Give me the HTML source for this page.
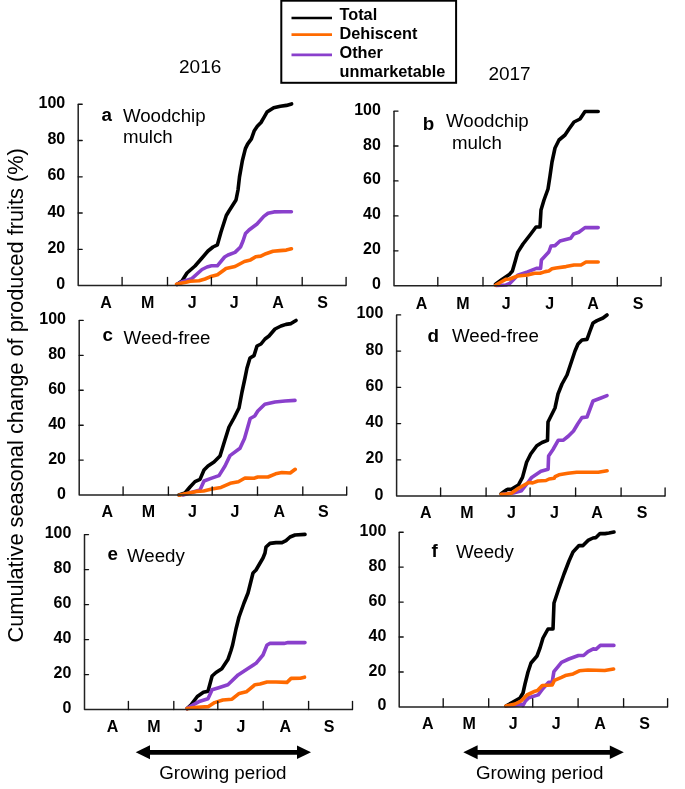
<!DOCTYPE html><html><head><meta charset="utf-8"><style>html,body{margin:0;padding:0;background:#fff;overflow:hidden;}svg{display:block;will-change:transform;}text{font-family:"Liberation Sans",sans-serif;}</style></head><body>
<svg width="685" height="789" viewBox="0 0 685 789">
<rect width="685" height="789" fill="#fff"/>
<rect x="281.3" y="0.7" width="174.8" height="82.1" fill="none" stroke="#000" stroke-width="2"/>
<line x1="291.5" y1="18" x2="332" y2="18" stroke="#000000" stroke-width="2.4"/>
<line x1="291.5" y1="34.7" x2="332" y2="34.7" stroke="#FF6A00" stroke-width="2.8"/>
<line x1="291.5" y1="54.9" x2="332" y2="54.9" stroke="#8A40CC" stroke-width="2.6"/>
<text x="339.5" y="19.5" font-size="16.3" font-weight="bold">Total</text>
<text x="339.5" y="38.9" font-size="16.3" font-weight="bold">Dehiscent</text>
<text x="339.5" y="57.9" font-size="16.3" font-weight="bold">Other</text>
<text x="339.5" y="77.4" font-size="16.3" font-weight="bold">unmarketable</text>
<text x="179" y="73.4" font-size="19">2016</text>
<text x="488.4" y="79.9" font-size="19">2017</text>
<text transform="translate(22.5,642.5) rotate(-90)" font-size="21.8">Cumulative seasonal change of produced fruits (%)</text>
<text x="65.2" y="289.1" font-size="16" font-weight="bold" text-anchor="end">0</text>
<text x="65.2" y="252.8" font-size="16" font-weight="bold" text-anchor="end">20</text>
<text x="65.2" y="216.5" font-size="16" font-weight="bold" text-anchor="end">40</text>
<text x="65.2" y="180.3" font-size="16" font-weight="bold" text-anchor="end">60</text>
<text x="65.2" y="144.0" font-size="16" font-weight="bold" text-anchor="end">80</text>
<text x="65.2" y="107.7" font-size="16" font-weight="bold" text-anchor="end">100</text>
<text x="106.1" y="308.4" font-size="16" font-weight="bold" text-anchor="middle">A</text>
<text x="147.7" y="308.4" font-size="16" font-weight="bold" text-anchor="middle">M</text>
<text x="192.1" y="308.4" font-size="16" font-weight="bold" text-anchor="middle">J</text>
<text x="234.2" y="308.4" font-size="16" font-weight="bold" text-anchor="middle">J</text>
<text x="278.1" y="308.4" font-size="16" font-weight="bold" text-anchor="middle">A</text>
<text x="322.5" y="308.4" font-size="16" font-weight="bold" text-anchor="middle">S</text>
<polyline points="177.0,284.4 182.0,281.0 187.0,273.0 195.0,266.0 202.0,258.0 208.0,251.0 213.0,247.0 217.4,244.8 221.0,232.0 226.3,215.5 229.0,211.0 236.0,200.0 238.0,190.0 239.5,176.9 242.4,160.5 245.4,148.6 247.6,144.1 251.4,138.9 254.3,130.7 257.3,126.3 261.0,122.5 264.0,117.3 267.0,112.1 273.7,107.7 280.4,106.2 286.4,105.4 291.6,103.9" fill="none" stroke="#000000" stroke-width="3.6" stroke-linejoin="round" stroke-linecap="round"/>
<polyline points="177.0,284.4 182.3,281.7 191.8,278.6 202.0,269.5 207.0,267.0 211.5,265.8 217.3,265.8 224.6,257.0 228.0,255.0 235.0,252.4 240.5,247.0 243.0,241.0 245.5,233.5 249.0,230.0 253.0,227.0 257.0,224.0 263.8,216.4 268.0,213.3 274.0,211.9 283.0,211.7 291.4,211.8" fill="none" stroke="#8A40CC" stroke-width="3.6" stroke-linejoin="round" stroke-linecap="round"/>
<polyline points="176.5,284.2 182.0,283.0 186.0,282.2 190.0,281.2 199.0,280.8 205.0,279.0 210.0,276.8 217.5,274.8 224.0,270.0 226.0,268.5 235.0,266.5 244.4,261.5 250.5,259.9 255.7,256.8 260.8,256.1 265.9,253.7 273.0,251.2 280.0,250.6 286.3,250.1 291.4,248.8" fill="none" stroke="#FF6A00" stroke-width="3.6" stroke-linejoin="round" stroke-linecap="round"/>
<path d="M78.2,104.2 V285.6 H346.1" fill="none" stroke="#222222" stroke-width="1.5" stroke-linejoin="round"/>
<line x1="78.2" y1="249.3" x2="82.2" y2="249.3" stroke="#111" stroke-width="1.35" stroke-linecap="round"/>
<line x1="78.2" y1="213.0" x2="82.2" y2="213.0" stroke="#111" stroke-width="1.35" stroke-linecap="round"/>
<line x1="78.2" y1="176.8" x2="82.2" y2="176.8" stroke="#111" stroke-width="1.35" stroke-linecap="round"/>
<line x1="78.2" y1="140.5" x2="82.2" y2="140.5" stroke="#111" stroke-width="1.35" stroke-linecap="round"/>
<line x1="78.2" y1="104.2" x2="82.2" y2="104.2" stroke="#111" stroke-width="1.35" stroke-linecap="round"/>
<line x1="122.1" y1="285.6" x2="122.1" y2="277.4" stroke="#111" stroke-width="1.35" stroke-linecap="round"/>
<line x1="167.5" y1="285.6" x2="167.5" y2="277.4" stroke="#111" stroke-width="1.35" stroke-linecap="round"/>
<line x1="211.4" y1="285.6" x2="211.4" y2="277.4" stroke="#111" stroke-width="1.35" stroke-linecap="round"/>
<line x1="256.8" y1="285.6" x2="256.8" y2="277.4" stroke="#111" stroke-width="1.35" stroke-linecap="round"/>
<line x1="302.2" y1="285.6" x2="302.2" y2="277.4" stroke="#111" stroke-width="1.35" stroke-linecap="round"/>
<line x1="346.1" y1="285.6" x2="346.1" y2="277.4" stroke="#111" stroke-width="1.35" stroke-linecap="round"/>
<text x="101.4" y="121.0" font-size="18.8" font-weight="bold">a</text>
<text x="122.9" y="121.6" font-size="18.7">Woodchip</text>
<text x="122.9" y="143.2" font-size="18.7">mulch</text>
<text x="380.9" y="289.2" font-size="16" font-weight="bold" text-anchor="end">0</text>
<text x="380.9" y="254.3" font-size="16" font-weight="bold" text-anchor="end">20</text>
<text x="380.9" y="219.4" font-size="16" font-weight="bold" text-anchor="end">40</text>
<text x="380.9" y="184.4" font-size="16" font-weight="bold" text-anchor="end">60</text>
<text x="380.9" y="149.5" font-size="16" font-weight="bold" text-anchor="end">80</text>
<text x="380.9" y="114.6" font-size="16" font-weight="bold" text-anchor="end">100</text>
<text x="421.6" y="308.5" font-size="16" font-weight="bold" text-anchor="middle">A</text>
<text x="462.9" y="308.5" font-size="16" font-weight="bold" text-anchor="middle">M</text>
<text x="506.1" y="308.5" font-size="16" font-weight="bold" text-anchor="middle">J</text>
<text x="549.7" y="308.5" font-size="16" font-weight="bold" text-anchor="middle">J</text>
<text x="593.1" y="308.5" font-size="16" font-weight="bold" text-anchor="middle">A</text>
<text x="638.0" y="308.5" font-size="16" font-weight="bold" text-anchor="middle">S</text>
<polyline points="495.5,284.2 502.0,279.5 509.7,274.2 512.4,271.0 515.0,262.0 517.7,252.4 523.0,244.0 530.0,235.0 536.0,227.0 540.0,227.0 541.0,210.0 544.0,200.0 548.0,189.0 550.0,176.0 552.0,162.0 555.0,148.0 559.0,140.0 565.0,135.0 569.0,129.0 574.0,122.0 580.0,119.0 585.0,111.5 598.2,111.5" fill="none" stroke="#000000" stroke-width="3.6" stroke-linejoin="round" stroke-linecap="round"/>
<polyline points="496.0,285.5 506.0,285.0 509.7,283.4 517.7,275.2 527.5,271.9 536.4,268.4 540.6,268.4 541.4,260.0 548.8,252.0 551.0,246.0 555.0,245.6 560.0,241.0 570.7,238.2 573.7,234.0 578.8,232.3 585.0,227.6 598.2,227.6" fill="none" stroke="#8A40CC" stroke-width="3.6" stroke-linejoin="round" stroke-linecap="round"/>
<polyline points="495.5,285.2 501.0,282.0 506.2,279.2 509.7,279.0 517.7,276.0 527.5,275.0 534.6,273.3 540.0,273.3 545.2,271.6 548.8,271.0 552.0,268.8 556.0,268.0 566.0,266.6 574.0,265.0 581.0,265.0 586.0,262.0 598.2,262.0" fill="none" stroke="#FF6A00" stroke-width="3.6" stroke-linejoin="round" stroke-linecap="round"/>
<path d="M394.0,111.1 V285.7 H661.1" fill="none" stroke="#222222" stroke-width="1.5" stroke-linejoin="round"/>
<line x1="394.0" y1="250.8" x2="398.0" y2="250.8" stroke="#111" stroke-width="1.35" stroke-linecap="round"/>
<line x1="394.0" y1="215.9" x2="398.0" y2="215.9" stroke="#111" stroke-width="1.35" stroke-linecap="round"/>
<line x1="394.0" y1="180.9" x2="398.0" y2="180.9" stroke="#111" stroke-width="1.35" stroke-linecap="round"/>
<line x1="394.0" y1="146.0" x2="398.0" y2="146.0" stroke="#111" stroke-width="1.35" stroke-linecap="round"/>
<line x1="394.0" y1="111.1" x2="398.0" y2="111.1" stroke="#111" stroke-width="1.35" stroke-linecap="round"/>
<line x1="437.8" y1="285.7" x2="437.8" y2="277.5" stroke="#111" stroke-width="1.35" stroke-linecap="round"/>
<line x1="483.0" y1="285.7" x2="483.0" y2="277.5" stroke="#111" stroke-width="1.35" stroke-linecap="round"/>
<line x1="526.8" y1="285.7" x2="526.8" y2="277.5" stroke="#111" stroke-width="1.35" stroke-linecap="round"/>
<line x1="572.1" y1="285.7" x2="572.1" y2="277.5" stroke="#111" stroke-width="1.35" stroke-linecap="round"/>
<line x1="617.3" y1="285.7" x2="617.3" y2="277.5" stroke="#111" stroke-width="1.35" stroke-linecap="round"/>
<line x1="661.1" y1="285.7" x2="661.1" y2="277.5" stroke="#111" stroke-width="1.35" stroke-linecap="round"/>
<text x="422.8" y="130.1" font-size="18.8" font-weight="bold">b</text>
<text x="446.0" y="127.4" font-size="18.7">Woodchip</text>
<text x="452.0" y="149.4" font-size="18.7">mulch</text>
<text x="66.0" y="498.5" font-size="16" font-weight="bold" text-anchor="end">0</text>
<text x="66.0" y="463.6" font-size="16" font-weight="bold" text-anchor="end">20</text>
<text x="66.0" y="428.7" font-size="16" font-weight="bold" text-anchor="end">40</text>
<text x="66.0" y="393.7" font-size="16" font-weight="bold" text-anchor="end">60</text>
<text x="66.0" y="358.8" font-size="16" font-weight="bold" text-anchor="end">80</text>
<text x="66.0" y="323.9" font-size="16" font-weight="bold" text-anchor="end">100</text>
<text x="107.4" y="516.7" font-size="16" font-weight="bold" text-anchor="middle">A</text>
<text x="148.3" y="516.7" font-size="16" font-weight="bold" text-anchor="middle">M</text>
<text x="192.4" y="516.7" font-size="16" font-weight="bold" text-anchor="middle">J</text>
<text x="235.0" y="516.7" font-size="16" font-weight="bold" text-anchor="middle">J</text>
<text x="279.4" y="516.7" font-size="16" font-weight="bold" text-anchor="middle">A</text>
<text x="323.3" y="516.7" font-size="16" font-weight="bold" text-anchor="middle">S</text>
<polyline points="179.0,495.0 185.0,493.0 190.0,487.0 195.0,481.6 200.0,479.4 204.0,470.0 208.0,466.0 214.0,462.0 220.0,456.0 224.0,443.0 229.0,427.0 234.0,418.0 239.0,408.0 242.0,392.0 245.0,378.0 247.0,368.0 250.0,358.0 254.0,355.6 257.0,346.0 261.0,344.0 265.0,339.0 269.0,336.0 275.0,329.0 281.0,326.0 286.0,324.4 291.0,323.6 296.0,320.4" fill="none" stroke="#000000" stroke-width="3.6" stroke-linejoin="round" stroke-linecap="round"/>
<polyline points="183.0,495.0 193.0,492.0 200.0,490.0 204.0,481.0 211.0,478.4 219.0,475.6 225.0,466.0 230.0,455.6 240.0,448.3 244.5,438.5 247.5,428.0 250.2,418.5 254.7,416.0 257.8,411.0 264.8,404.2 275.0,402.0 285.0,401.0 295.0,400.4" fill="none" stroke="#8A40CC" stroke-width="3.6" stroke-linejoin="round" stroke-linecap="round"/>
<polyline points="179.0,495.2 185.2,493.7 196.5,491.4 203.6,491.0 211.8,489.0 221.0,487.4 230.2,483.3 238.4,481.8 245.0,478.0 254.0,478.2 257.8,477.0 268.0,477.0 275.6,473.8 281.9,472.5 290.2,473.0 295.2,469.3" fill="none" stroke="#FF6A00" stroke-width="3.6" stroke-linejoin="round" stroke-linecap="round"/>
<path d="M79.2,320.4 V495.0 H346.7" fill="none" stroke="#222222" stroke-width="1.5" stroke-linejoin="round"/>
<line x1="79.2" y1="460.1" x2="83.2" y2="460.1" stroke="#111" stroke-width="1.35" stroke-linecap="round"/>
<line x1="79.2" y1="425.2" x2="83.2" y2="425.2" stroke="#111" stroke-width="1.35" stroke-linecap="round"/>
<line x1="79.2" y1="390.2" x2="83.2" y2="390.2" stroke="#111" stroke-width="1.35" stroke-linecap="round"/>
<line x1="79.2" y1="355.3" x2="83.2" y2="355.3" stroke="#111" stroke-width="1.35" stroke-linecap="round"/>
<line x1="79.2" y1="320.4" x2="83.2" y2="320.4" stroke="#111" stroke-width="1.35" stroke-linecap="round"/>
<line x1="123.1" y1="495.0" x2="123.1" y2="486.8" stroke="#111" stroke-width="1.35" stroke-linecap="round"/>
<line x1="168.4" y1="495.0" x2="168.4" y2="486.8" stroke="#111" stroke-width="1.35" stroke-linecap="round"/>
<line x1="212.2" y1="495.0" x2="212.2" y2="486.8" stroke="#111" stroke-width="1.35" stroke-linecap="round"/>
<line x1="257.5" y1="495.0" x2="257.5" y2="486.8" stroke="#111" stroke-width="1.35" stroke-linecap="round"/>
<line x1="302.8" y1="495.0" x2="302.8" y2="486.8" stroke="#111" stroke-width="1.35" stroke-linecap="round"/>
<line x1="346.7" y1="495.0" x2="346.7" y2="486.8" stroke="#111" stroke-width="1.35" stroke-linecap="round"/>
<text x="102.4" y="341.0" font-size="18.8" font-weight="bold">c</text>
<text x="123.6" y="344.4" font-size="18.7">Weed-free</text>
<text x="383.3" y="499.6" font-size="16" font-weight="bold" text-anchor="end">0</text>
<text x="383.3" y="463.4" font-size="16" font-weight="bold" text-anchor="end">20</text>
<text x="383.3" y="427.1" font-size="16" font-weight="bold" text-anchor="end">40</text>
<text x="383.3" y="390.9" font-size="16" font-weight="bold" text-anchor="end">60</text>
<text x="383.3" y="354.6" font-size="16" font-weight="bold" text-anchor="end">80</text>
<text x="383.3" y="318.4" font-size="16" font-weight="bold" text-anchor="end">100</text>
<text x="425.9" y="518.4" font-size="16" font-weight="bold" text-anchor="middle">A</text>
<text x="466.8" y="518.4" font-size="16" font-weight="bold" text-anchor="middle">M</text>
<text x="511.4" y="518.4" font-size="16" font-weight="bold" text-anchor="middle">J</text>
<text x="554.4" y="518.4" font-size="16" font-weight="bold" text-anchor="middle">J</text>
<text x="597.1" y="518.4" font-size="16" font-weight="bold" text-anchor="middle">A</text>
<text x="642.0" y="518.4" font-size="16" font-weight="bold" text-anchor="middle">S</text>
<polyline points="501.1,493.8 506.0,490.2 508.2,489.2 511.3,489.2 518.4,485.0 522.5,477.4 526.6,462.2 530.7,454.0 536.8,445.7 542.0,442.5 547.5,440.4 548.0,422.0 555.0,408.0 558.0,394.0 562.0,384.0 567.0,375.0 571.0,363.0 575.0,351.0 578.0,344.0 582.0,340.0 587.0,339.4 590.0,331.0 593.0,323.0 597.0,320.6 603.0,318.0 607.0,315.0" fill="none" stroke="#000000" stroke-width="3.6" stroke-linejoin="round" stroke-linecap="round"/>
<polyline points="503.0,494.2 513.3,493.0 521.5,490.7 527.6,483.0 531.7,477.4 540.9,471.3 548.1,469.3 548.6,456.0 553.0,449.5 558.3,440.2 563.4,440.2 568.5,436.0 573.5,431.0 577.7,424.0 582.0,417.6 587.0,417.0 593.0,401.0 601.0,398.0 607.0,395.6" fill="none" stroke="#8A40CC" stroke-width="3.6" stroke-linejoin="round" stroke-linecap="round"/>
<polyline points="501.1,494.2 506.0,494.0 511.3,493.2 518.4,488.2 528.7,482.5 532.7,482.9 537.9,481.0 546.0,480.5 549.1,479.0 554.2,478.3 555.1,476.7 559.0,474.8 568.0,473.3 576.7,472.2 587.0,472.2 598.3,472.2 607.1,470.8" fill="none" stroke="#FF6A00" stroke-width="3.6" stroke-linejoin="round" stroke-linecap="round"/>
<path d="M396.6,314.9 V496.1 H665.1" fill="none" stroke="#222222" stroke-width="1.5" stroke-linejoin="round"/>
<line x1="396.6" y1="459.9" x2="400.6" y2="459.9" stroke="#111" stroke-width="1.35" stroke-linecap="round"/>
<line x1="396.6" y1="423.6" x2="400.6" y2="423.6" stroke="#111" stroke-width="1.35" stroke-linecap="round"/>
<line x1="396.6" y1="387.4" x2="400.6" y2="387.4" stroke="#111" stroke-width="1.35" stroke-linecap="round"/>
<line x1="396.6" y1="351.1" x2="400.6" y2="351.1" stroke="#111" stroke-width="1.35" stroke-linecap="round"/>
<line x1="396.6" y1="314.9" x2="400.6" y2="314.9" stroke="#111" stroke-width="1.35" stroke-linecap="round"/>
<line x1="440.6" y1="496.1" x2="440.6" y2="487.9" stroke="#111" stroke-width="1.35" stroke-linecap="round"/>
<line x1="486.1" y1="496.1" x2="486.1" y2="487.9" stroke="#111" stroke-width="1.35" stroke-linecap="round"/>
<line x1="530.1" y1="496.1" x2="530.1" y2="487.9" stroke="#111" stroke-width="1.35" stroke-linecap="round"/>
<line x1="575.6" y1="496.1" x2="575.6" y2="487.9" stroke="#111" stroke-width="1.35" stroke-linecap="round"/>
<line x1="621.1" y1="496.1" x2="621.1" y2="487.9" stroke="#111" stroke-width="1.35" stroke-linecap="round"/>
<line x1="665.1" y1="496.1" x2="665.1" y2="487.9" stroke="#111" stroke-width="1.35" stroke-linecap="round"/>
<text x="427.4" y="342.4" font-size="18.8" font-weight="bold">d</text>
<text x="452.0" y="341.6" font-size="18.7">Weed-free</text>
<text x="71.4" y="713.1" font-size="16" font-weight="bold" text-anchor="end">0</text>
<text x="71.4" y="678.1" font-size="16" font-weight="bold" text-anchor="end">20</text>
<text x="71.4" y="643.1" font-size="16" font-weight="bold" text-anchor="end">40</text>
<text x="71.4" y="608.1" font-size="16" font-weight="bold" text-anchor="end">60</text>
<text x="71.4" y="573.1" font-size="16" font-weight="bold" text-anchor="end">80</text>
<text x="71.4" y="538.1" font-size="16" font-weight="bold" text-anchor="end">100</text>
<text x="112.5" y="732.0" font-size="16" font-weight="bold" text-anchor="middle">A</text>
<text x="154.0" y="732.0" font-size="16" font-weight="bold" text-anchor="middle">M</text>
<text x="198.4" y="732.0" font-size="16" font-weight="bold" text-anchor="middle">J</text>
<text x="240.9" y="732.0" font-size="16" font-weight="bold" text-anchor="middle">J</text>
<text x="285.3" y="732.0" font-size="16" font-weight="bold" text-anchor="middle">A</text>
<text x="329.2" y="732.0" font-size="16" font-weight="bold" text-anchor="middle">S</text>
<polyline points="187.0,708.6 191.1,704.9 197.3,696.5 203.4,692.3 208.0,691.2 212.1,676.0 216.0,672.5 221.8,668.8 227.9,659.6 231.0,650.5 232.6,645.0 236.0,629.0 239.0,617.0 244.0,603.0 248.0,593.0 253.0,573.0 256.0,570.0 263.0,558.0 265.0,553.0 266.0,547.0 270.0,543.4 276.0,542.6 282.0,542.6 286.0,540.6 290.0,537.0 295.0,535.0 305.0,534.4" fill="none" stroke="#000000" stroke-width="3.6" stroke-linejoin="round" stroke-linecap="round"/>
<polyline points="187.0,708.6 194.0,704.3 200.0,701.2 208.0,698.8 212.1,689.8 218.7,687.7 227.9,684.7 238.1,674.9 248.0,668.4 256.0,663.3 263.0,655.0 267.0,645.0 270.0,643.4 284.0,643.4 288.0,642.6 305.0,642.6" fill="none" stroke="#8A40CC" stroke-width="3.6" stroke-linejoin="round" stroke-linecap="round"/>
<polyline points="187.0,708.6 197.3,707.2 208.5,706.6 214.6,702.6 222.8,700.0 232.0,699.2 239.2,693.4 246.3,691.8 255.0,684.7 260.0,684.0 267.0,682.0 276.0,682.0 287.0,682.4 291.1,678.4 300.3,678.2 304.5,677.2" fill="none" stroke="#FF6A00" stroke-width="3.6" stroke-linejoin="round" stroke-linecap="round"/>
<path d="M84.5,534.6 V709.6 H352.5" fill="none" stroke="#222222" stroke-width="1.5" stroke-linejoin="round"/>
<line x1="84.5" y1="674.6" x2="88.5" y2="674.6" stroke="#111" stroke-width="1.35" stroke-linecap="round"/>
<line x1="84.5" y1="639.6" x2="88.5" y2="639.6" stroke="#111" stroke-width="1.35" stroke-linecap="round"/>
<line x1="84.5" y1="604.6" x2="88.5" y2="604.6" stroke="#111" stroke-width="1.35" stroke-linecap="round"/>
<line x1="84.5" y1="569.6" x2="88.5" y2="569.6" stroke="#111" stroke-width="1.35" stroke-linecap="round"/>
<line x1="84.5" y1="534.6" x2="88.5" y2="534.6" stroke="#111" stroke-width="1.35" stroke-linecap="round"/>
<line x1="128.4" y1="709.6" x2="128.4" y2="701.4" stroke="#111" stroke-width="1.35" stroke-linecap="round"/>
<line x1="173.8" y1="709.6" x2="173.8" y2="701.4" stroke="#111" stroke-width="1.35" stroke-linecap="round"/>
<line x1="217.8" y1="709.6" x2="217.8" y2="701.4" stroke="#111" stroke-width="1.35" stroke-linecap="round"/>
<line x1="263.2" y1="709.6" x2="263.2" y2="701.4" stroke="#111" stroke-width="1.35" stroke-linecap="round"/>
<line x1="308.6" y1="709.6" x2="308.6" y2="701.4" stroke="#111" stroke-width="1.35" stroke-linecap="round"/>
<line x1="352.5" y1="709.6" x2="352.5" y2="701.4" stroke="#111" stroke-width="1.35" stroke-linecap="round"/>
<text x="107.4" y="560.0" font-size="18.8" font-weight="bold">e</text>
<text x="127.0" y="561.6" font-size="18.7">Weedy</text>
<text x="386.3" y="710.4" font-size="16" font-weight="bold" text-anchor="end">0</text>
<text x="386.3" y="675.5" font-size="16" font-weight="bold" text-anchor="end">20</text>
<text x="386.3" y="640.5" font-size="16" font-weight="bold" text-anchor="end">40</text>
<text x="386.3" y="605.6" font-size="16" font-weight="bold" text-anchor="end">60</text>
<text x="386.3" y="570.6" font-size="16" font-weight="bold" text-anchor="end">80</text>
<text x="386.3" y="535.7" font-size="16" font-weight="bold" text-anchor="end">100</text>
<text x="427.9" y="728.6" font-size="16" font-weight="bold" text-anchor="middle">A</text>
<text x="469.2" y="728.6" font-size="16" font-weight="bold" text-anchor="middle">M</text>
<text x="513.1" y="728.6" font-size="16" font-weight="bold" text-anchor="middle">J</text>
<text x="556.2" y="728.6" font-size="16" font-weight="bold" text-anchor="middle">J</text>
<text x="600.1" y="728.6" font-size="16" font-weight="bold" text-anchor="middle">A</text>
<text x="644.5" y="728.6" font-size="16" font-weight="bold" text-anchor="middle">S</text>
<polyline points="506.0,706.0 513.0,702.0 520.0,698.0 523.0,693.0 525.0,684.0 528.0,672.0 531.0,663.0 537.0,656.0 540.0,648.0 543.0,638.0 548.0,629.0 553.0,629.0 554.0,603.0 559.0,588.0 564.0,574.0 569.0,561.0 573.0,552.0 579.0,545.6 583.0,545.6 588.0,540.4 593.0,538.0 596.0,537.6 600.0,533.6 605.0,533.6 609.0,533.0 614.0,532.0" fill="none" stroke="#000000" stroke-width="3.6" stroke-linejoin="round" stroke-linecap="round"/>
<polyline points="507.0,706.0 515.0,705.4 522.0,704.4 523.0,705.5 525.5,701.0 528.8,697.8 538.2,694.9 543.0,688.5 548.7,682.2 552.2,682.0 553.9,671.6 561.5,662.3 568.8,659.0 578.4,655.5 583.6,655.5 588.0,651.6 593.3,648.9 595.9,649.3 600.3,645.4 613.9,645.4" fill="none" stroke="#8A40CC" stroke-width="3.6" stroke-linejoin="round" stroke-linecap="round"/>
<polyline points="506.0,706.0 515.0,704.0 521.0,701.0 527.0,695.0 535.0,691.2 537.5,690.6 542.3,685.5 552.2,685.0 554.5,680.3 561.5,677.4 565.3,675.6 573.1,673.9 579.3,670.8 588.0,670.0 596.0,670.2 604.7,670.5 613.6,669.0" fill="none" stroke="#FF6A00" stroke-width="3.6" stroke-linejoin="round" stroke-linecap="round"/>
<path d="M399.2,532.2 V706.9 H667.6" fill="none" stroke="#222222" stroke-width="1.5" stroke-linejoin="round"/>
<line x1="399.2" y1="672.0" x2="403.2" y2="672.0" stroke="#111" stroke-width="1.35" stroke-linecap="round"/>
<line x1="399.2" y1="637.0" x2="403.2" y2="637.0" stroke="#111" stroke-width="1.35" stroke-linecap="round"/>
<line x1="399.2" y1="602.1" x2="403.2" y2="602.1" stroke="#111" stroke-width="1.35" stroke-linecap="round"/>
<line x1="399.2" y1="567.1" x2="403.2" y2="567.1" stroke="#111" stroke-width="1.35" stroke-linecap="round"/>
<line x1="399.2" y1="532.2" x2="403.2" y2="532.2" stroke="#111" stroke-width="1.35" stroke-linecap="round"/>
<line x1="443.2" y1="706.9" x2="443.2" y2="698.7" stroke="#111" stroke-width="1.35" stroke-linecap="round"/>
<line x1="488.7" y1="706.9" x2="488.7" y2="698.7" stroke="#111" stroke-width="1.35" stroke-linecap="round"/>
<line x1="532.7" y1="706.9" x2="532.7" y2="698.7" stroke="#111" stroke-width="1.35" stroke-linecap="round"/>
<line x1="578.1" y1="706.9" x2="578.1" y2="698.7" stroke="#111" stroke-width="1.35" stroke-linecap="round"/>
<line x1="623.6" y1="706.9" x2="623.6" y2="698.7" stroke="#111" stroke-width="1.35" stroke-linecap="round"/>
<line x1="667.6" y1="706.9" x2="667.6" y2="698.7" stroke="#111" stroke-width="1.35" stroke-linecap="round"/>
<text x="431.4" y="557.4" font-size="18.8" font-weight="bold">f</text>
<text x="456.0" y="557.6" font-size="18.7">Weedy</text>
<line x1="147.7" y1="752.3" x2="299.0" y2="752.3" stroke="#000" stroke-width="4.8"/><polygon points="135.7,752.3 150.0,745.3 150.0,759.3" fill="#000"/><polygon points="311.0,752.3 297.0,745.5 297.0,759.0999999999999" fill="#000"/>
<text x="159.2" y="778.5" font-size="18.8">Growing period</text>
<line x1="475.3" y1="752.3" x2="611.8" y2="752.3" stroke="#000" stroke-width="4.8"/><polygon points="463.3,752.3 477.6,745.3 477.6,759.3" fill="#000"/><polygon points="623.8,752.3 609.8,745.5 609.8,759.0999999999999" fill="#000"/>
<text x="476.0" y="779.3" font-size="18.8">Growing period</text>
</svg></body></html>
